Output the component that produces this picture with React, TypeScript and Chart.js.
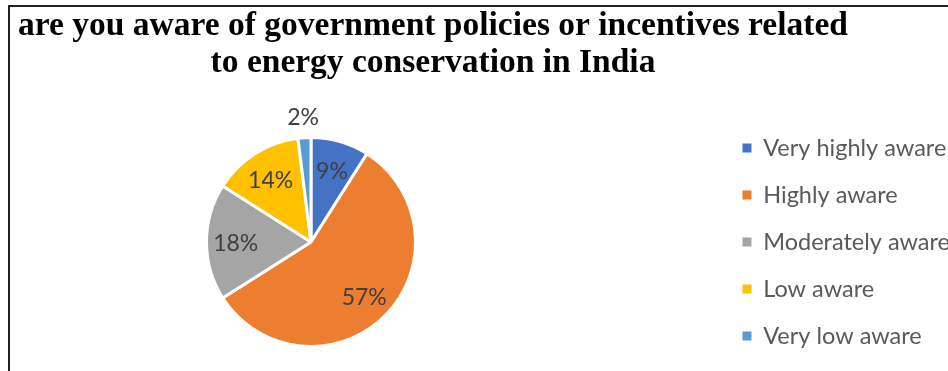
import React, { useEffect, useRef } from 'react';
import { Chart, registerables } from 'chart.js';

Chart.register(...registerables);

const categories = ['Very highly aware', 'Highly aware', 'Moderately aware', 'Low aware', 'Very low aware'];
const percentages = [9, 57, 18, 14, 2];
const colors = ['#4472C4', '#ED7D31', '#A5A5A5', '#FFC000', '#5B9BD5'];
const titleLines = ['are you aware of government policies or incentives related', 'to energy conservation in India'];

const CANVAS_LEFT = -97; // canvas offset in the viewport
const LEGEND_LEFT = 719; // desired legend box left in viewport
const TITLE_CENTER_X = 433;
const H = 371;
const CANVAS_H = 400;

function buildConfig() {
  const titlePlugin = {
    id: 'titleLines',
    afterDraw(chart: any) {
      const ctx = chart.ctx;
      ctx.save();
      ctx.font = 'bold 33.5px "Liberation Serif", "Times New Roman", serif';
      ctx.fillStyle = '#000000';
      ctx.textAlign = 'center';
      ctx.textBaseline = 'alphabetic';
      titleLines.forEach((t, i) => ctx.fillText(t, TITLE_CENTER_X - CANVAS_LEFT, 34.7 + i * 37.5));
      ctx.restore();
    },
  };
  const labelPlugin = {
    id: 'pctLabels',
    afterDatasetsDraw(chart: any) {
      const meta = chart.getDatasetMeta(0);
      const ctx = chart.ctx;
      ctx.save();
      ctx.font = '23px Lato, "Noto Sans", sans-serif';
      ctx.fillStyle = '#404040';
      ctx.textAlign = 'center';
      ctx.textBaseline = 'middle';
      meta.data.forEach((arc: any, i: number) => {
        const { x, y, startAngle, endAngle, outerRadius } = arc.getProps(
          ['x', 'y', 'startAngle', 'endAngle', 'outerRadius'],
          true
        );
        const mid = (startAngle + endAngle) / 2;
        const v = percentages[i];
        const r = v < 5 ? outerRadius + 22 : outerRadius * 0.72;
        ctx.fillText(v + '%', x + Math.cos(mid) * r, y + Math.sin(mid) * r + 2);
      });
      ctx.restore();
    },
  };
  return {
    type: 'pie' as const,
    data: {
      labels: categories,
      datasets: [
        {
          data: percentages,
          backgroundColor: colors,
          borderColor: '#ffffff',
          borderWidth: 3,
          hoverOffset: 0,
          offset: 0,
        },
      ],
    },
    options: {
      responsive: false,
      animation: false as const,
      devicePixelRatio: 1,
      events: [],
      radius: 104.5,
      layout: { padding: { top: 100, bottom: CANVAS_H - 384, left: 0, right: 0 } },
      plugins: {
        title: { display: false },
        tooltip: { enabled: false },
        legend: {
          display: true,
          position: 'right' as const,
          align: 'center' as const,
          labels: {
            boxWidth: 9,
            boxHeight: 9,
            padding: 23.5,
            color: '#595959',
            font: { family: 'Lato, "Noto Sans", sans-serif', size: 23.5 },
            generateLabels: (c: any) =>
              (Chart as any).overrides.pie.plugins.legend.labels
                .generateLabels(c)
                .map((l: any) => ({ ...l, lineWidth: 0, strokeStyle: l.fillStyle })),
          },
        },
      },
    },
    plugins: [titlePlugin, labelPlugin],
  };
}

export default function App() {
  const ref = useRef<HTMLCanvasElement>(null);

  useEffect(() => {
    const canvas = ref.current!;
    const startW = 1100;
    canvas.width = startW;
    canvas.height = CANVAS_H;
    canvas.style.width = startW + 'px';
    canvas.style.height = CANVAS_H + 'px';
    const probe = new Chart(canvas, buildConfig() as any);
    const legendLeft = (probe as any).legend.left;
    probe.destroy();
    const targetLeft = LEGEND_LEFT - CANVAS_LEFT;
    const newWidth = Math.round(startW + (targetLeft - legendLeft));
    canvas.width = newWidth;
    canvas.height = CANVAS_H;
    canvas.style.width = newWidth + 'px';
    canvas.style.height = CANVAS_H + 'px';
    const chart = new Chart(canvas, buildConfig() as any);
    return () => chart.destroy();
  }, []);

  return (
    <div
      style={{
        position: 'fixed',
        left: 0,
        top: 0,
        width: 948,
        height: H,
        overflow: 'hidden',
        background: '#ffffff',
      }}
    >
      <div
        style={{
          position: 'absolute',
          left: 8,
          top: 5,
          width: 3000,
          height: 3000,
          borderTop: '2px solid #222222',
          borderLeft: '2px solid #222222',
        }}
      />
      <canvas
        ref={ref}
        width={1100}
        height={CANVAS_H}
        style={{ position: 'absolute', left: CANVAS_LEFT, top: 0, display: 'block' }}
      />
    </div>
  );
}
